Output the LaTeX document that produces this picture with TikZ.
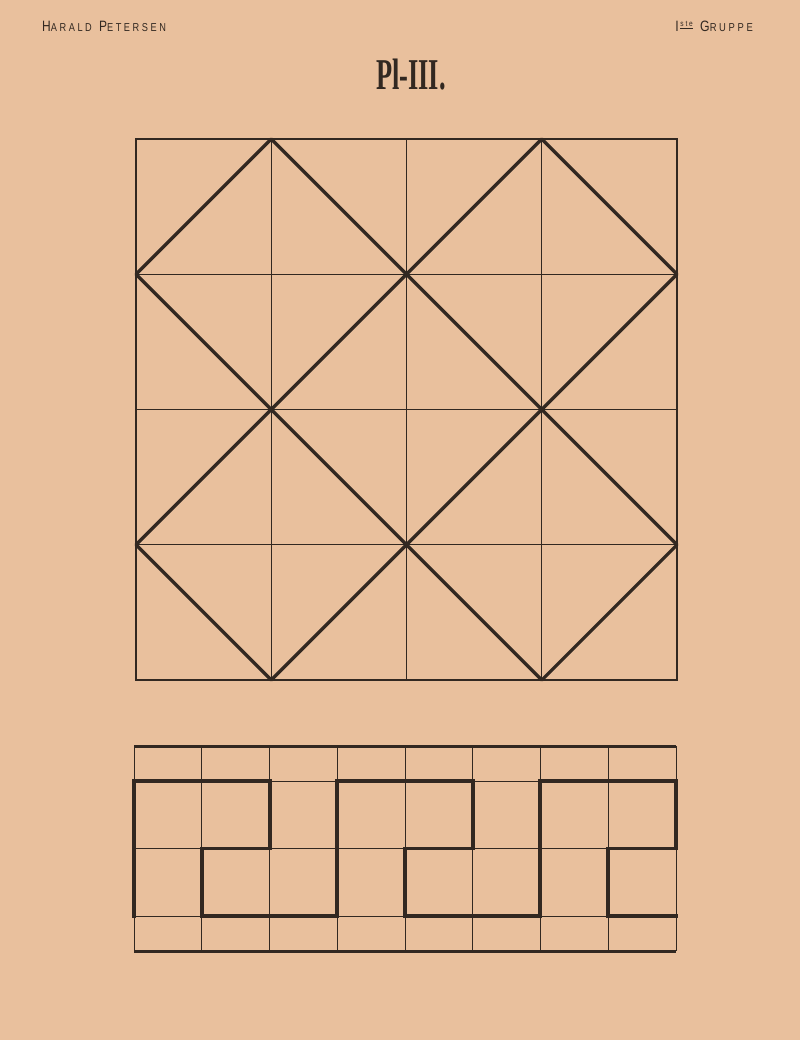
\documentclass[tikz,border=0pt]{standalone}
\usepackage{fontspec}
\newfontfamily\headfont[LetterSpace=28]{Liberation Sans}
\newfontfamily\titlefont{Liberation Serif}
\definecolor{paper}{RGB}{233,192,157}
\definecolor{ink}{RGB}{50,40,33}
\newcommand{\sctext}[2]{{\fontsize{15}{15}\selectfont #1}{\fontsize{11.5}{11.5}\selectfont #2}}
\begin{document}
\begin{tikzpicture}[x=1pt,y=-1pt,
  gridline/.style={ink,line width=0.9pt},
  frameline/.style={ink,line width=2.2pt},
  boldline/.style={ink,line width=3.2pt,line join=miter,line cap=rect},
  headtext/.style={ink,inner sep=0pt,font=\headfont}]
\fill[paper] (0,0) rectangle (800,1040);
\useasboundingbox (0,0) rectangle (800,1040);
% header
\node[headtext,anchor=base west] (author) at (42,32) {\scalebox{0.8}[1]{\sctext{H}{ARALD}\hspace{9pt}\sctext{P}{ETERSEN}}};
\node[headtext,anchor=base east] (group) at (753,32) {\scalebox{0.82}[1]{{\fontsize{15}{15}\selectfont I}\hspace{2pt}\raisebox{5pt}{\underline{\fontsize{8}{8}\selectfont ste}}\hspace{9pt}\sctext{G}{RUPPE}}};
\node[ink,inner sep=0pt,anchor=base] (title) at (411,90) {\scalebox{0.6}[1]{\fontsize{44}{44}\titlefont\bfseries Pl-III.}};
% top square grid
\foreach \i in {1,2,3} {
  \draw[gridline] ({136+135.25*\i},139) -- ({136+135.25*\i},680);
  \draw[gridline] (136,{139+135.25*\i}) -- (677,{139+135.25*\i});
}
\draw[frameline] (136,139) rectangle (677,680);
% four diamonds
\foreach \cx/\cy in {271.25/274.25, 541.75/274.25, 271.25/544.75, 541.75/544.75} {
  \draw[boldline,line cap=round,line join=round] (\cx,\cy-135.25) -- (\cx+135.25,\cy) -- (\cx,\cy+135.25) -- (\cx-135.25,\cy) -- cycle;
}
% bottom band
\foreach \i in {0,...,8} {
  \draw[gridline] ({134+67.75*\i},746) -- ({134+67.75*\i},951);
}
\foreach \y in {781,848.5,916} {
  \draw[gridline] (134,\y) -- (676,\y);
}
\draw[frameline,line width=3pt] (134,746) -- (676,746);
\draw[frameline,line width=3pt] (134,951) -- (676,951);
\draw[boldline] (134,916) -- (134,781) -- (270,781) -- (270,848.5) -- (202,848.5) -- (202,916)
  -- (337,916) -- (337,781) -- (473,781) -- (473,848.5) -- (405,848.5) -- (405,916)
  -- (540,916) -- (540,781) -- (676,781) -- (676,848.5) -- (608,848.5) -- (608,916) -- (676,916);
\end{tikzpicture}
\end{document}
